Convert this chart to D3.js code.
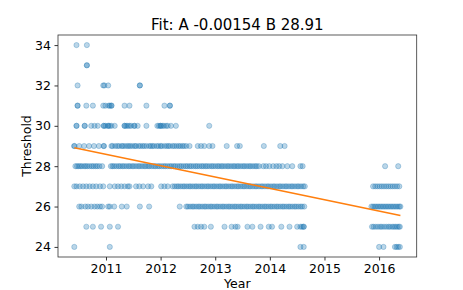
<!DOCTYPE html>
<html>
<head>
<meta charset="utf-8">
<script src="https://cdn.jsdelivr.net/npm/d3@7"></script>
<style>
  body { margin: 0; background: #fff; }
  text { font-family: "DejaVu Sans", sans-serif; fill: #000; }
</style>
</head>
<body>
<div id="app"></div>
<script>
const W = 463, H = 290;
const margin = { left: 58, top: 35, right: 46.3, bottom: 33 };
const bounds = {
    width: W - margin.left - margin.right,
    height: H - margin.top - margin.bottom
};

// fit text from the title
const fitA = -0.00154, fitB = 28.91;
const yTicks = [24, 26, 28, 30, 32, 34];
const xTicks = [2011, 2012, 2013, 2014, 2015, 2016];

// decimal years, one array per threshold value
const t34 = [2010.46, 2010.65];
const t33 = [2010.65, 2010.65];
const t32 = [2010.48, 2010.95, 2010.97, 2011.04, 2011.62, 2011.62];
const t31 = [2010.48, 2010.48, 2010.64, 2010.76, 2010.95, 2010.99, 2011.05, 2011.07, 2011.10, 2011.10,
    2011.34, 2011.43, 2011.74, 2012.07, 2012.17, 2012.17];
const t30 = [2010.46, 2010.46, 2010.61, 2010.61, 2010.73, 2010.79, 2010.85, 2010.96, 2010.96, 2010.99,
    2011.04, 2011.04, 2011.07, 2011.10, 2011.16, 2011.34, 2011.34, 2011.37, 2011.40, 2011.43, 2011.46,
    2011.52, 2011.52, 2011.58, 2011.74, 2011.94, 2011.97, 2012.00, 2012.00, 2012.03, 2012.06, 2012.10,
    2012.13, 2012.19, 2012.28, 2012.89];
const t29 = [2010.42, 2010.42, 2010.51, 2010.60, 2010.69, 2010.78, 2010.87, 2010.96, 2010.96,
    2011.10, 2011.12, 2011.17, 2011.21, 2011.24, 2011.29, 2011.31, 2011.35, 2011.39, 2011.42, 2011.45,
    2011.49, 2011.53, 2011.55, 2011.60, 2011.63, 2011.67, 2011.70, 2011.74, 2011.79, 2011.82, 2011.85,
    2011.88, 2011.93, 2011.96, 2012.00, 2012.02, 2012.07, 2012.11, 2012.14, 2012.17, 2012.22, 2012.25,
    2012.29, 2012.33, 2012.36, 2012.40, 2012.43, 2012.47, 2012.53, 2012.68, 2012.74, 2012.80, 2012.89,
    2012.95, 2013.21, 2013.40, 2013.45, 2013.89, 2014.19, 2014.27];
const t28 = [2010.44, 2010.47, 2010.50, 2010.53, 2010.56, 2010.60, 2010.63, 2010.66, 2010.70, 2010.74,
    2010.77, 2010.81, 2010.84, 2010.88, 2010.93, 2011.09, 2011.12, 2011.15, 2011.19, 2011.23, 2011.26,
    2011.30, 2011.33, 2011.37, 2011.41, 2011.44, 2011.48, 2011.51, 2011.55, 2011.59, 2011.62, 2011.66,
    2011.70, 2011.73, 2011.77, 2011.80, 2011.84, 2011.88, 2011.91, 2011.95, 2011.98, 2012.02, 2012.06,
    2012.09, 2012.13, 2012.17, 2012.20, 2012.24, 2012.27, 2012.31, 2012.35, 2012.38, 2012.42, 2012.46,
    2012.49, 2012.53, 2012.56, 2012.60, 2012.64, 2012.67, 2012.71, 2012.75, 2012.78, 2012.82, 2012.85,
    2012.89, 2012.93, 2012.96, 2013.00, 2013.04, 2013.07, 2013.11, 2013.14, 2013.18, 2013.22, 2013.25,
    2013.29, 2013.33, 2013.36, 2013.40, 2013.43, 2013.47, 2013.51, 2013.54, 2013.58, 2013.62, 2013.65,
    2013.69, 2013.73, 2013.76, 2013.80, 2013.88, 2013.93, 2013.99, 2014.06, 2014.12, 2014.17, 2014.23,
    2014.32, 2014.41, 2014.56, 2014.60, 2016.11, 2016.35];
const t27 = [2010.42, 2010.46, 2010.52, 2010.58, 2010.64, 2010.70, 2010.76, 2010.82, 2010.89, 2010.95,
    2011.07, 2011.16, 2011.22, 2011.28, 2011.34, 2011.40, 2011.43, 2011.55, 2011.61, 2011.68, 2011.77,
    2011.83, 2012.01, 2012.07, 2012.13, 2012.22, 2012.26, 2012.30, 2012.33, 2012.37, 2012.41, 2012.44,
    2012.48, 2012.52, 2012.55, 2012.59, 2012.63, 2012.66, 2012.70, 2012.74, 2012.77, 2012.81, 2012.85,
    2012.88, 2012.92, 2012.96, 2012.99, 2013.03, 2013.07, 2013.10, 2013.14, 2013.18, 2013.21, 2013.25,
    2013.29, 2013.32, 2013.36, 2013.40, 2013.43, 2013.47, 2013.51, 2013.54, 2013.58, 2013.62, 2013.65,
    2013.69, 2013.73, 2013.76, 2013.80, 2013.84, 2013.87, 2013.91, 2013.95, 2013.98, 2014.02, 2014.06,
    2014.09, 2014.13, 2014.17, 2014.20, 2014.24, 2014.28, 2014.31, 2014.35, 2014.39, 2014.42, 2014.46,
    2014.50, 2014.53, 2014.57, 2014.61, 2014.64, 2015.89, 2015.93, 2015.97, 2016.01, 2016.05, 2016.09,
    2016.13, 2016.17, 2016.21, 2016.25, 2016.29, 2016.33, 2016.37];
const t26 = [2010.51, 2010.55, 2010.62, 2010.67, 2010.73, 2010.79, 2010.84, 2010.89, 2010.93, 2011.04,
    2011.07, 2011.15, 2011.29, 2011.38, 2011.62, 2011.79, 2012.35, 2012.47, 2012.50, 2012.54, 2012.58,
    2012.61, 2012.65, 2012.69, 2012.72, 2012.76, 2012.80, 2012.83, 2012.87, 2012.91, 2012.94, 2012.98,
    2013.02, 2013.05, 2013.09, 2013.13, 2013.16, 2013.20, 2013.24, 2013.27, 2013.31, 2013.35, 2013.38,
    2013.42, 2013.46, 2013.49, 2013.53, 2013.57, 2013.60, 2013.64, 2013.68, 2013.71, 2013.75, 2013.79,
    2013.82, 2013.86, 2013.90, 2013.93, 2013.97, 2014.01, 2014.04, 2014.08, 2014.12, 2014.15, 2014.19,
    2014.23, 2014.26, 2014.30, 2014.34, 2014.37, 2014.41, 2014.45, 2014.48, 2014.52, 2014.56, 2014.59,
    2014.63, 2015.86, 2015.89, 2015.92, 2015.95, 2015.98, 2016.01, 2016.04, 2016.07, 2016.10, 2016.13,
    2016.16, 2016.19, 2016.22, 2016.25, 2016.28, 2016.31, 2016.34, 2016.37, 2016.39];
const t25 = [2010.64, 2010.76, 2010.91, 2011.07, 2011.22, 2012.62, 2012.68, 2012.74, 2012.80, 2012.92,
    2013.17, 2013.30, 2013.37, 2013.41, 2013.59, 2013.68, 2013.83, 2013.98, 2014.04, 2014.21, 2014.36,
    2014.50, 2014.56, 2014.59, 2014.62, 2014.62, 2015.87, 2015.90, 2015.94, 2015.98, 2016.02, 2016.05,
    2016.09, 2016.13, 2016.17, 2016.20, 2016.24, 2016.27, 2016.30, 2016.33, 2016.36, 2016.38];
const t24 = [2010.42, 2011.07, 2014.56, 2014.62, 2016.00, 2016.08, 2016.29, 2016.32, 2016.35, 2016.38];

const rows = [[34, t34], [33, t33], [32, t32], [31, t31], [30, t30], [29, t29],
    [28, t28], [27, t27], [26, t26], [25, t25], [24, t24]];
const dataset = rows.flatMap(([v, xs]) => xs.map(x => ({ year: x, threshold: v })));

const svg = d3.select('#app')
    .append('svg')
    .attr('width', W)
    .attr('height', H)
    .style('display', 'block');

const g = svg.append('g')
    .attr('transform', `translate(${margin.left},${margin.top})`);

// matplotlib-like 5% margins
const xExt = d3.extent(dataset, d => d.year);
const xPad = (xExt[1] - xExt[0]) * 0.05;
const xScale = d3.scaleLinear()
    .domain([xExt[0] - xPad, xExt[1] + xPad])
    .range([0, bounds.width]);
const yScale = d3.scaleLinear()
    .domain([23.5, 34.5])
    .range([bounds.height, 0]);

const xAxis = g.append('g')
    .attr('transform', `translate(0,${bounds.height})`)
    .call(d3.axisBottom(xScale).tickValues(xTicks).tickFormat(d3.format('d')).tickSize(3.5).tickPadding(3.5));
const yAxis = g.append('g')
    .call(d3.axisLeft(yScale).tickValues(yTicks).tickFormat(d3.format('d')).tickSize(3.5).tickPadding(3.5));

[xAxis, yAxis].forEach(a => {
    a.select('.domain').remove();
    a.selectAll('.tick line').attr('stroke', '#000').attr('stroke-width', 0.8);
    a.selectAll('.tick text').style('font-size', '12.5px').style('font-family', '"DejaVu Sans", sans-serif');
});

// points: fill and edge both translucent, like a matplotlib scatter
g.selectAll('.dot')
    .data(dataset)
    .join('circle')
    .classed('dot', true)
    .attr('cx', d => xScale(d.year))
    .attr('cy', d => yScale(d.threshold))
    .attr('r', 2.6)
    .attr('fill', '#1f77b4')
    .attr('fill-opacity', 0.3)
    .attr('stroke', '#1f77b4')
    .attr('stroke-opacity', 0.3)
    .attr('stroke-width', 1);

// fit line, A per day from the first sample
const x0 = xExt[0], x1 = xExt[1];
const fitLine = [x0, x1].map(x => ({ x, y: fitB + fitA * (x - x0) * 365.25 }));
g.append('path')
    .datum(fitLine)
    .attr('fill', 'none')
    .attr('stroke', '#ff7f0e')
    .attr('stroke-width', 1.5)
    .attr('d', d3.line().x(d => xScale(d.x)).y(d => yScale(d.y)));

// frame
g.append('rect')
    .attr('width', bounds.width)
    .attr('height', bounds.height)
    .attr('fill', 'none')
    .attr('stroke', '#333')
    .attr('stroke-width', 0.8);

svg.append('text')
    .attr('x', margin.left + bounds.width / 2)
    .attr('y', 30)
    .attr('text-anchor', 'middle')
    .style('font-size', '15px')
    .text(`Fit: A ${fitA} B ${fitB}`);

svg.append('text')
    .attr('x', margin.left + bounds.width / 2)
    .attr('y', 288)
    .attr('text-anchor', 'middle')
    .style('font-size', '12.5px')
    .text('Year');

svg.append('text')
    .attr('transform', `translate(31,${margin.top + bounds.height / 2}) rotate(-90)`)
    .attr('text-anchor', 'middle')
    .style('font-size', '12.5px')
    .text('Threshold');
</script>
</body>
</html>
